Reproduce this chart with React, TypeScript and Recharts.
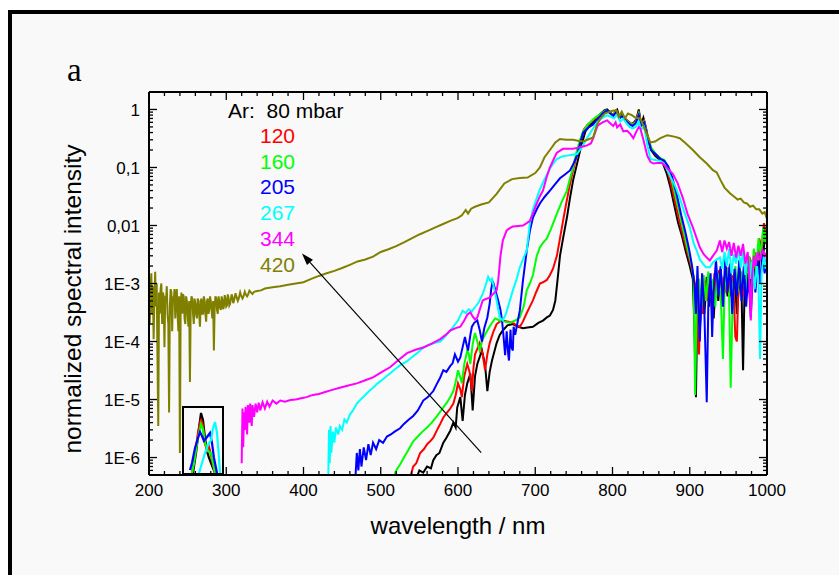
import React from 'react';
import { LineChart, Line, XAxis, YAxis, ReferenceLine } from 'recharts';

type Pt = [number, number];

// spectra: [wavelength nm, normalized intensity]
const ar80: Pt[] = [
  [545, 4e-7], [550, 6e-7], [555, 5.5e-7], [560, 7e-7], [565, 6.5e-7], [568, 9e-7], [572, 1.1e-6], [576, 1.2e-6],
  [581, 1.8e-6], [585, 2.2e-6], [590, 2.9e-6], [594, 4e-6], [597, 3.3e-6], [599, 7.3e-6], [603, 1.1e-5], [606, 4.3e-6],
  [609, 1.2e-5], [612, 1.9e-5], [616, 2.8e-5], [619, 6.5e-6], [622, 2.5e-5], [625, 4.1e-5], [631, 7e-5], [635, 4e-5],
  [638, 1.4e-5], [641, 3e-5], [644, 4.7e-5], [650, 9.4e-5], [654, 1.3e-4], [658, 1.55e-4], [664, 1.9e-4], [671, 2e-4],
  [678, 1.8e-4], [684, 1.7e-4], [690, 1.75e-4], [697, 1.8e-4], [704, 2.1e-4], [710, 2.3e-4], [715, 2.6e-4], [719, 2.8e-4],
  [723, 3.5e-4], [726, 5.1e-4], [729, 1.2e-3], [732, 3e-3], [736, 6e-3], [741, 0.0137], [745, 0.03], [749, 0.06],
  [755, 0.13], [760, 0.25], [765, 0.42], [770, 0.52], [775, 0.6], [780, 0.72], [785, 0.85], [790, 0.97], [793, 1.0],
  [797, 0.9], [801, 0.78], [804, 0.95], [806, 1.0], [809, 0.72], [812, 0.82], [816, 0.7], [820, 0.62], [824, 0.55],
  [828, 0.6], [831, 0.68], [834, 1.0], [837, 0.55], [840, 0.72], [843, 0.5], [846, 0.3], [850, 0.2], [855, 0.16],
  [860, 0.14], [865, 0.12], [870, 0.08], [875, 0.045], [880, 0.022], [885, 0.011], [890, 0.0065], [895, 0.0035],
  [900, 0.002], [904, 0.0012], [906, 1.8e-4], [908, 1.1e-5], [910, 6e-4], [913, 1.5e-4], [916, 9e-4], [919, 3e-4],
  [922, 1.3e-3], [925, 4e-4], [928, 1.1e-3], [931, 2.5e-4], [934, 1.4e-3], [937, 5e-4], [940, 1.8e-3], [943, 4.5e-4],
  [946, 1.2e-3], [949, 6e-4], [952, 2e-3], [955, 5e-4], [958, 1.5e-3], [961, 3e-4], [964, 1e-3], [967, 8e-4],
  [969, 3.2e-5], [971, 9e-4], [974, 2e-3], [977, 7e-4], [980, 2.5e-3], [983, 1e-3], [986, 3e-3], [989, 1.5e-3],
  [992, 5e-3], [995, 3e-3], [998, 8e-3], [1000, 6e-3],
];

const ar120: Pt[] = [
  [537, 4e-7], [542, 7e-7], [546, 8e-7], [551, 1.2e-6], [556, 1.4e-6], [560, 1.7e-6], [564, 1.9e-6], [568, 2.2e-6],
  [573, 3e-6], [577, 3.8e-6], [581, 4.9e-6], [586, 6e-6], [590, 7e-6], [594, 8.5e-6], [597, 1.2e-5], [600, 1.9e-5],
  [603, 1.5e-5], [605, 1.1e-5], [608, 2.5e-5], [612, 4.1e-5], [615, 3e-5], [618, 1.4e-5], [620, 3.5e-5], [622, 6e-5],
  [628, 9.4e-5], [632, 6e-5], [635, 3.2e-5], [638, 6e-5], [641, 9.4e-5], [646, 1.5e-4], [650, 2e-4], [654, 2.2e-4],
  [658, 2.3e-4], [665, 2.2e-4], [671, 2.1e-4], [676, 1.9e-4], [680, 1.8e-4], [684, 2.2e-4], [689, 3.1e-4], [693, 4e-4],
  [697, 5.1e-4], [701, 7e-4], [706, 1e-3], [710, 1.05e-3], [715, 1.15e-3], [719, 1.4e-3], [723, 1.8e-3], [728, 3e-3],
  [732, 6e-3], [736, 0.012], [739, 0.02], [744, 0.045], [748, 0.079], [752, 0.13], [755, 0.2], [759, 0.3], [763, 0.45],
  [768, 0.55], [775, 0.65], [780, 0.75], [786, 0.85], [792, 0.95], [797, 0.88], [801, 0.8], [805, 0.95], [809, 0.75],
  [813, 0.8], [817, 0.68], [822, 0.6], [826, 0.56], [830, 0.62], [834, 0.92], [837, 0.55], [841, 0.65], [845, 0.38],
  [850, 0.21], [856, 0.17], [862, 0.14], [866, 0.13], [871, 0.09], [876, 0.05], [881, 0.026], [886, 0.013],
  [891, 0.007], [896, 0.0038], [901, 0.0022], [905, 0.0013], [908, 8e-4], [910, 1.5e-4], [912, 6e-5], [914, 7e-4],
  [917, 3e-4], [920, 1.1e-3], [923, 5e-4], [926, 1.3e-3], [929, 3e-4], [932, 1.5e-3], [935, 6e-4], [938, 1.7e-3],
  [941, 5e-4], [944, 1.3e-3], [947, 7e-4], [950, 1.9e-3], [953, 6e-4], [956, 1.4e-3], [959, 1.2e-4], [961, 1e-4],
  [963, 9e-4], [966, 1.6e-3], [969, 6e-4], [972, 2.2e-3], [975, 9e-4], [978, 2.8e-3], [981, 1.2e-3], [984, 3.5e-3],
  [987, 2e-3], [990, 6e-3], [993, 4e-3], [996, 0.011], [998, 7e-3], [1000, 0.009],
];

const ar160: Pt[] = [
  [515, 4e-7], [520, 6e-7], [525, 7.6e-7], [530, 1e-6], [535, 1.3e-6], [542, 1.9e-6], [548, 2.3e-6], [554, 2.8e-6],
  [560, 3.3e-6], [566, 4e-6], [572, 5e-6], [577, 6.2e-6], [581, 7.3e-6], [586, 9e-6], [590, 1.1e-5], [594, 1.4e-5],
  [597, 2e-5], [600, 3.2e-5], [603, 2.4e-5], [605, 1.9e-5], [608, 4e-5], [612, 7e-5], [614, 6e-5], [616, 4.1e-5],
  [619, 9e-5], [622, 1.4e-4], [625, 1e-4], [628, 7e-5], [632, 1.1e-4], [638, 1.55e-4], [643, 2e-4], [648, 2.5e-4],
  [654, 2.3e-4], [660, 2.2e-4], [667, 2.1e-4], [674, 2.3e-4], [680, 2.6e-4], [685, 4e-4], [689, 7.6e-4], [693, 1e-3],
  [697, 1.4e-3], [702, 3e-3], [706, 4.2e-3], [710, 5e-3], [715, 6e-3], [720, 8.5e-3], [728, 0.016], [734, 0.025],
  [741, 0.04], [745, 0.065], [749, 0.1], [754, 0.2], [758, 0.3], [762, 0.42], [768, 0.55], [775, 0.68], [781, 0.78],
  [787, 0.88], [792, 0.96], [797, 0.86], [801, 0.8], [805, 0.92], [809, 0.72], [813, 0.8], [817, 0.66], [822, 0.58],
  [826, 0.55], [830, 0.6], [834, 0.85], [837, 0.55], [841, 0.62], [845, 0.36], [850, 0.22], [856, 0.17], [862, 0.145],
  [867, 0.135], [872, 0.1], [877, 0.06], [882, 0.03], [887, 0.016], [892, 0.008], [897, 0.004], [902, 0.0022],
  [905, 0.0013], [907, 1.2e-5], [909, 5e-4], [912, 1.2e-3], [915, 4e-4], [918, 1.4e-3], [921, 5e-4], [924, 1.6e-3],
  [927, 6e-4], [930, 1.2e-3], [933, 4e-4], [936, 1.5e-3], [940, 7e-4], [943, 5e-5], [945, 8e-4], [948, 1.8e-3],
  [951, 6e-4], [953, 1.6e-5], [956, 9e-4], [959, 2e-3], [962, 7e-4], [965, 1.8e-3], [968, 9e-4], [971, 2.5e-3],
  [974, 8e-4], [977, 3e-3], [980, 1.2e-3], [983, 4e-3], [986, 1.5e-3], [989, 6e-3], [992, 3e-3], [995, 9e-3],
  [998, 5e-3], [1000, 0.012],
];

const ar205: Pt[] = [
  [467, 4e-7], [469, 1.2e-6], [471, 6e-7], [473, 1.4e-6], [475, 7e-7], [478, 1.5e-6], [481, 9e-7], [484, 1.7e-6],
  [487, 1.1e-6], [490, 1.8e-6], [494, 1.4e-6], [498, 2e-6], [503, 1.8e-6], [508, 2.3e-6], [513, 2.5e-6], [518, 2.8e-6],
  [525, 3.2e-6], [530, 3.8e-6], [536, 4.5e-6], [542, 5.2e-6], [548, 6.5e-6], [555, 9.6e-6], [561, 1.1e-5], [568, 1.4e-5],
  [573, 1.9e-5], [577, 2.4e-5], [581, 3.2e-5], [585, 3e-5], [590, 3.8e-5], [593, 4.2e-5], [596, 6e-5], [600, 4.5e-5],
  [603, 5.3e-5], [606, 8e-5], [609, 1.2e-4], [611, 9e-5], [613, 7e-5], [616, 1.3e-4], [618, 1.8e-4], [621, 2.1e-4],
  [625, 2.3e-4], [628, 1.6e-4], [631, 1e-4], [634, 1.7e-4], [638, 2.6e-4], [641, 4.5e-4], [643, 8e-4], [645, 1.1e-3],
  [648, 8e-4], [652, 5.1e-4], [655, 3.5e-4], [657, 2.3e-4], [659, 1.2e-4], [661, 5.8e-5], [663, 1.5e-4], [665, 6e-5],
  [666, 4.7e-5], [668, 1.6e-4], [669, 8e-5], [671, 7e-5], [672, 1.8e-4], [674, 1.3e-4], [676, 1.8e-4], [680, 3.4e-4],
  [684, 1.1e-3], [689, 3.7e-3], [693, 8e-3], [697, 0.0137], [702, 0.019], [706, 0.024], [712, 0.031], [719, 0.04],
  [725, 0.05], [732, 0.065], [738, 0.075], [745, 0.089], [750, 0.12], [754, 0.16], [758, 0.26], [762, 0.4], [768, 0.48],
  [775, 0.55], [781, 0.68], [787, 0.85], [793, 0.96], [797, 0.85], [801, 0.78], [805, 0.9], [809, 0.7], [813, 0.78],
  [817, 0.64], [822, 0.56], [826, 0.52], [830, 0.58], [834, 0.8], [837, 0.52], [841, 0.6], [845, 0.35], [850, 0.2],
  [856, 0.17], [862, 0.14], [867, 0.13], [872, 0.105], [877, 0.07], [883, 0.035], [889, 0.015], [894, 0.008],
  [899, 0.004], [903, 0.002], [906, 1e-3], [908, 3e-4], [910, 2e-3], [913, 1e-4], [916, 1.5e-3], [919, 3e-4],
  [922, 9e-6], [924, 4e-4], [927, 1.5e-3], [929, 1.2e-4], [931, 8e-4], [934, 2.5e-3], [937, 6e-4], [940, 2e-3],
  [943, 4e-4], [946, 2.8e-3], [949, 7e-4], [952, 2.2e-3], [955, 3e-4], [958, 1.8e-3], [961, 6e-4], [964, 2.5e-3],
  [967, 5e-4], [970, 2e-3], [973, 4e-4], [976, 1.5e-3], [979, 2.6e-4], [982, 1.8e-3], [985, 7e-4], [988, 2.5e-3],
  [991, 1e-3], [994, 3e-3], [997, 1.5e-3], [1000, 3e-3],
];

const ar267: Pt[] = [
  [432, 4e-7], [433, 3e-6], [434, 8e-7], [435, 3.5e-6], [436, 1.2e-6], [438, 2.8e-6], [440, 1.8e-6], [442, 3.3e-6],
  [445, 2.5e-6], [447, 3.5e-6], [450, 3e-6], [453, 4.5e-6], [456, 4e-6], [460, 5.5e-6], [464, 6.5e-6], [469, 8.5e-6],
  [474, 1e-5], [480, 1.2e-5], [485, 1.4e-5], [490, 1.6e-5], [496, 1.9e-5], [502, 2.2e-5], [507, 2.5e-5], [512, 2.8e-5],
  [518, 3.3e-5], [524, 3.8e-5], [529, 4.2e-5], [534, 4.6e-5], [540, 5.3e-5], [547, 6.3e-5], [555, 7.8e-5], [562, 8.7e-5],
  [570, 9.5e-5], [577, 1e-4], [583, 1.2e-4], [589, 1.5e-4], [594, 1.8e-4], [600, 2.3e-4], [606, 3.4e-4], [610, 3.1e-4],
  [614, 3.6e-4], [618, 3.3e-4], [622, 3.9e-4], [627, 4.8e-4], [632, 6.6e-4], [636, 9.5e-4], [639, 1.3e-3], [642, 1.1e-3],
  [644, 1.2e-3], [647, 8e-4], [650, 5.1e-4], [654, 2.6e-4], [658, 2.3e-4], [662, 3e-4], [667, 5e-4], [671, 7.6e-4],
  [676, 1.2e-3], [680, 1.9e-3], [685, 2.8e-3], [689, 3.7e-3], [693, 0.011], [697, 0.019], [702, 0.03], [706, 0.042],
  [710, 0.055], [715, 0.075], [719, 0.096], [724, 0.12], [728, 0.14], [735, 0.155], [741, 0.16], [748, 0.165],
  [754, 0.17], [760, 0.22], [767, 0.32], [774, 0.45], [780, 0.6], [787, 0.72], [793, 0.79], [798, 0.75], [802, 0.7],
  [806, 0.82], [810, 0.62], [814, 0.7], [818, 0.58], [822, 0.5], [826, 0.47], [830, 0.5], [834, 0.62], [837, 0.45],
  [841, 0.5], [845, 0.25], [849, 0.14], [855, 0.135], [862, 0.13], [866, 0.12], [871, 0.089], [876, 0.065],
  [882, 0.045], [887, 0.03], [893, 0.017], [900, 0.0093], [905, 5e-3], [909, 3.7e-3], [913, 2.6e-3], [917, 2.2e-3],
  [921, 1.9e-3], [926, 1.9e-3], [930, 2.3e-3], [935, 2.6e-3], [939, 2.8e-3], [942, 1.8e-3], [945, 3.5e-3], [948, 2e-3],
  [951, 4e-3], [954, 1.5e-3], [957, 3.2e-3], [960, 2.2e-3], [963, 4.2e-3], [966, 1.9e-3], [969, 3.5e-3], [972, 1.4e-3],
  [975, 3e-3], [978, 1.2e-3], [981, 2.5e-3], [984, 8e-4], [987, 2e-3], [989, 1e-3], [991, 5e-5], [993, 1.5e-3],
  [996, 3e-3], [998, 1.8e-3], [1000, 2.5e-3],
];

const ar344: Pt[] = [
  [320, 8e-7], [321, 7e-6], [322, 1.5e-6], [323, 6e-6], [324, 3e-6], [325, 7.5e-6], [327, 2.5e-6], [328, 8e-6],
  [330, 4e-6], [331, 8.5e-6], [333, 3.5e-6], [334, 8e-6], [336, 5e-6], [338, 8.5e-6], [340, 6e-6], [342, 8.8e-6],
  [344, 6.5e-6], [347, 9e-6], [350, 7e-6], [353, 9.2e-6], [356, 7.5e-6], [360, 9.6e-6], [365, 8.5e-6], [370, 9.6e-6],
  [376, 9.2e-6], [383, 9.8e-6], [390, 1e-5], [397, 1.05e-5], [404, 1.1e-5], [412, 1.2e-5], [420, 1.25e-5],
  [428, 1.35e-5], [436, 1.45e-5], [447, 1.6e-5], [458, 1.75e-5], [469, 1.9e-5], [480, 2.15e-5], [490, 2.4e-5],
  [500, 2.9e-5], [512, 3.6e-5], [523, 4.8e-5], [534, 6.3e-5], [545, 7.2e-5], [555, 7.9e-5], [566, 9.2e-5], [577, 1.1e-4],
  [584, 1.3e-4], [590, 1.55e-4], [597, 1.7e-4], [603, 1.8e-4], [608, 2.3e-4], [612, 2.9e-4], [616, 3.2e-4], [619, 2.7e-4],
  [622, 2.4e-4], [625, 2.6e-4], [628, 3.5e-4], [632, 5.1e-4], [636, 5.4e-4], [641, 5.7e-4], [645, 6.5e-4], [650, 7.6e-4],
  [652, 1.1e-3], [655, 3e-3], [658, 5.5e-3], [663, 8.2e-3], [667, 9e-3], [671, 9.6e-3], [678, 9.8e-3], [684, 0.01],
  [689, 0.011], [693, 0.012], [697, 0.016], [702, 0.024], [706, 0.032], [710, 0.04], [715, 0.07], [719, 0.1],
  [724, 0.14], [728, 0.18], [736, 0.21], [742, 0.21], [749, 0.21], [756, 0.22], [762, 0.23], [767, 0.24], [772, 0.26],
  [775, 0.32], [778, 0.42], [781, 0.53], [787, 0.6], [793, 0.65], [797, 0.58], [801, 0.52], [804, 0.6], [806, 0.49],
  [810, 0.55], [814, 0.42], [819, 0.43], [823, 0.38], [827, 0.32], [831, 0.42], [834, 0.5], [836, 0.47], [840, 0.3],
  [845, 0.16], [849, 0.125], [853, 0.117], [858, 0.12], [864, 0.12], [870, 0.1], [878, 0.078], [884, 0.055], [891, 0.03],
  [897, 0.016], [904, 0.0093], [909, 0.006], [913, 4.2e-3], [918, 3.2e-3], [922, 2.8e-3], [926, 2.5e-3], [930, 3e-3],
  [935, 3.7e-3], [939, 5.5e-3], [942, 3.5e-3], [945, 5.5e-3], [948, 4e-3], [951, 5.2e-3], [954, 3e-3], [957, 5e-3],
  [960, 2.8e-3], [963, 4.5e-3], [966, 3e-3], [969, 4.8e-3], [972, 2.2e-3], [975, 3.5e-3], [977, 1.3e-3], [979, 2.3e-4],
  [981, 1.5e-3], [983, 3e-3], [985, 2e-3], [988, 3.5e-3], [991, 2.5e-3], [994, 3.8e-3], [997, 3e-3], [1000, 3.5e-3],
];

const ar420: Pt[] = [
  [200, 1.2e-3], [201, 2e-4], [202, 8e-4], [203, 1.5e-3], [204, 3e-4], [205, 9e-4], [206, 1.1e-4], [207, 6e-4],
  [208, 1.6e-3], [209, 4e-4], [210, 1e-3], [211, 5e-5], [212, 3.5e-6], [213, 7e-4], [214, 3e-4], [215, 8e-4], [216, 1e-3],
  [217, 2e-4], [218, 7e-4], [219, 6e-4], [220, 8e-5], [221, 6e-4], [222, 5e-4], [223, 9e-4], [224, 3e-4], [225, 2e-4],
  [226, 6e-6], [227, 4e-4], [228, 8e-4], [229, 7e-4], [230, 1.5e-4], [231, 6e-4], [232, 5e-4], [233, 8e-4], [234, 2.5e-4],
  [235, 6e-4], [236, 8e-4], [237, 3e-4], [238, 1.5e-4], [239, 6e-4], [240, 1.2e-6], [241, 4e-4], [242, 7e-4], [243, 3e-4],
  [244, 6.5e-4], [245, 6e-4], [246, 2.5e-4], [247, 2e-4], [248, 6e-4], [249, 5e-4], [250, 3e-4], [251, 1.8e-4],
  [252, 5e-4], [253, 2e-5], [254, 4e-4], [255, 6e-4], [256, 5.5e-4], [257, 3e-4], [258, 2e-4], [259, 5.5e-4],
  [260, 4.5e-4], [261, 3e-4], [262, 2.5e-4], [263, 5.5e-4], [264, 5e-4], [265, 2.8e-4], [266, 1.8e-4], [267, 5e-4],
  [268, 5.5e-4], [269, 3e-4], [270, 3e-4], [271, 6e-4], [272, 5e-4], [273, 3e-4], [274, 2.2e-4], [275, 5e-4],
  [276, 5.5e-4], [277, 3e-4], [278, 3.5e-4], [279, 6e-4], [280, 5e-4], [281, 3.5e-4], [282, 2.5e-4], [283, 5e-4],
  [284, 7e-5], [285, 4e-4], [286, 6e-4], [287, 5.5e-4], [288, 3.5e-4], [289, 3e-4], [290, 6e-4], [291, 5e-4],
  [292, 3.8e-4], [293, 3.5e-4], [294, 6e-4], [295, 5.2e-4], [296, 3.6e-4], [297, 4e-4], [298, 6.3e-4], [299, 5.5e-4],
  [300, 4e-4], [301, 4.2e-4], [302, 6.5e-4], [303, 5.6e-4], [304, 4.2e-4], [305, 4.5e-4], [307, 6.5e-4], [308, 5.8e-4],
  [309, 4.6e-4], [310, 5e-4], [312, 6.8e-4], [313, 6e-4], [315, 5e-4], [316, 5.4e-4], [318, 7e-4], [319, 6.3e-4],
  [321, 5.5e-4], [322, 5.8e-4], [324, 7.2e-4], [325, 6.6e-4], [327, 6e-4], [328, 6.3e-4], [330, 7.5e-4], [332, 7e-4],
  [334, 6.6e-4], [336, 7.2e-4], [340, 7.4e-4], [345, 7.6e-4], [350, 8.2e-4], [360, 8.6e-4], [370, 9e-4], [380, 9.5e-4],
  [390, 1e-3], [400, 1.05e-3], [410, 1.2e-3], [420, 1.35e-3], [430, 1.5e-3], [440, 1.65e-3], [450, 1.85e-3],
  [460, 2.1e-3], [470, 2.4e-3], [480, 2.6e-3], [490, 2.9e-3], [500, 3.5e-3], [510, 3.9e-3], [520, 4.4e-3],
  [530, 5.1e-3], [540, 6e-3], [550, 7e-3], [560, 8e-3], [570, 9.2e-3], [580, 0.0105], [590, 0.012], [600, 0.0135],
  [605, 0.015], [610, 0.0185], [613, 0.016], [617, 0.0195], [622, 0.021], [630, 0.023], [640, 0.025], [650, 0.035],
  [660, 0.053], [670, 0.063], [680, 0.066], [690, 0.067], [700, 0.08], [706, 0.1], [712, 0.15], [719, 0.2], [726, 0.27],
  [732, 0.31], [740, 0.3], [749, 0.3], [755, 0.29], [762, 0.28], [770, 0.31], [775, 0.33], [780, 0.55], [785, 0.72],
  [790, 0.85], [795, 0.9], [800, 0.95], [805, 0.97], [808, 0.75], [812, 0.92], [816, 0.7], [820, 0.85], [825, 0.8],
  [830, 0.72], [836, 0.7], [842, 0.45], [849, 0.27], [855, 0.28], [862, 0.32], [871, 0.36], [880, 0.34], [887, 0.32],
  [895, 0.26], [904, 0.2], [913, 0.15], [922, 0.117], [930, 0.09], [935, 0.082], [940, 0.06], [945, 0.045], [952, 0.036],
  [958, 0.031], [962, 0.028], [966, 0.029], [970, 0.025], [974, 0.024], [978, 0.021], [982, 0.022], [986, 0.019],
  [990, 0.019], [994, 0.016], [997, 0.017], [1000, 0.013],
];

// zoomed inset (box near 250-300 nm): [x offset, height] in box units
const in80: Pt[] = [[9, 0], [12, 20], [15, 45], [17, 60], [19, 53], [21, 35], [23, 22], [25, 15], [27, 10], [29, 5], [31, 0]];
const in120: Pt[] = [[8, 0], [11, 18], [14, 40], [17, 54], [19, 47], [21, 30], [23, 22], [25, 26], [27, 18], [29, 8], [31, 0]];
const in160: Pt[] = [[8, 0], [10, 10], [13, 30], [17, 49], [19, 44], [21, 30], [24, 22], [27, 20], [29, 10], [31, 0]];
const in205: Pt[] = [[6, 3], [8, 10], [11, 25], [14, 35], [16, 41], [18, 37], [20, 32], [23, 36], [26, 40], [28, 30], [30, 15], [33, 0]];
const in267: Pt[] = [[15, 0], [18, 10], [21, 20], [24, 28], [27, 33], [29, 45], [31, 51], [33, 40], [35, 15], [36, 0]];

const pressures = ['80', '120', '160', '205', '267', '344', '420'];
const colors = ['#000000', '#ff0000', '#00ff00', '#0000ff', '#00ffff', '#ff00ff', '#808000'];
const mainSeries = [ar80, ar120, ar160, ar205, ar267, ar344, ar420];
const insetSeries = [in80, in120, in160, in205, in267];

const xTicks: number[] = [];
for (let v = 200; v <= 1000; v += 20) xTicks.push(v);
const yTicks: number[] = [];
for (let e = -7; e <= 0; e++) {
  for (let m = 1; m <= 9; m++) {
    const v = Number((m * Math.pow(10, e)).toPrecision(3));
    if (v >= 5e-7 && v <= 2) yTicks.push(v);
  }
}

const rows = (pts: Pt[]) => pts.map(([x, y]) => ({ x, y }));

const SANS = '"Liberation Sans", Arial, Helvetica, sans-serif';
const X_GAP = 9;
const Y_GAP = 9;

const isDecade = (v: number) => Math.abs(Math.log10(v) - Math.round(Math.log10(v))) < 1e-6;
const fmtY = (v: number) => {
  const e = Math.round(Math.log10(v));
  if (e === 0) return '1';
  if (e === -1) return '0,1';
  if (e === -2) return '0,01';
  return `1E${e}`;
};

const BottomTick = (props: any) => {
  const { x, y, payload } = props;
  const major = payload.value % 100 === 0;
  const ay = y - X_GAP;
  return (
    <g>
      <line x1={x} x2={x} y1={ay} y2={ay - (major ? 8 : 4)} stroke="#000" strokeWidth={1.3} />
      {major && (
        <text x={x} y={y} dy="0.71em" textAnchor="middle" fontSize={17} fontFamily={SANS} fill="#000">
          {payload.value}
        </text>
      )}
    </g>
  );
};

const TopTick = (props: any) => {
  const { x, y, payload } = props;
  const major = payload.value % 100 === 0;
  return <line x1={x} x2={x} y1={y} y2={y + (major ? 8 : 4)} stroke="#000" strokeWidth={1.3} />;
};

const LeftTick = (props: any) => {
  const { x, y, payload } = props;
  const major = isDecade(payload.value);
  const ax = x + Y_GAP;
  return (
    <g>
      <line x1={ax} x2={ax + (major ? 8 : 4)} y1={y} y2={y} stroke="#000" strokeWidth={1.3} />
      {major && (
        <text x={x} y={y} dy="0.36em" textAnchor="end" fontSize={17} fontFamily={SANS} fill="#000">
          {fmtY(payload.value)}
        </text>
      )}
    </g>
  );
};

const RightTick = (props: any) => {
  const { x, y, payload } = props;
  const major = isDecade(payload.value);
  return <line x1={x} x2={x - (major ? 8 : 4)} y1={y} y2={y} stroke="#000" strokeWidth={1.3} />;
};

const Arrow = (props: any) => {
  const { x1, y1, x2, y2 } = props;
  const a = Math.atan2(y2 - y1, x2 - x1);
  const bx = x2 - 12 * Math.cos(a);
  const by = y2 - 12 * Math.sin(a);
  const nx = -Math.sin(a) * 4;
  const ny = Math.cos(a) * 4;
  return (
    <g>
      <line x1={x1} y1={y1} x2={bx} y2={by} stroke="#000" strokeWidth={1.2} />
      <polygon points={`${x2},${y2} ${bx + nx},${by + ny} ${bx - nx},${by - ny}`} fill="#000" />
    </g>
  );
};

const axisStyle = { stroke: '#000', strokeWidth: 2 };

export default function App() {
  return (
    <div style={{ position: 'absolute', left: 0, top: 0, width: 839, height: 575, background: '#fff', overflow: 'hidden' }}>
      <div
        style={{
          position: 'absolute', left: 8, top: 10, width: 840, height: 580,
          borderTop: '4px solid #000', borderLeft: '4px solid #000', background: '#f9f9f9',
        }}
      />
      <div style={{ position: 'absolute', left: 0, top: 0 }}>
        <LineChart width={839} height={575} margin={{ top: 82, right: 62, bottom: 70, left: 99 }}>
          <XAxis
            dataKey="x" type="number" domain={[200, 1000]} ticks={xTicks} interval={0} allowDataOverflow
            height={30} tickSize={0} tickMargin={X_GAP} tickLine={false} axisLine={axisStyle} tick={<BottomTick />}
          />
          <XAxis
            xAxisId="top" orientation="top" dataKey="x" type="number" domain={[200, 1000]} ticks={xTicks} interval={0}
            allowDataOverflow height={10} tickSize={0} tickMargin={0} tickLine={false} axisLine={axisStyle} tick={<TopTick />}
          />
          <YAxis
            dataKey="y" type="number" scale="log" domain={[5e-7, 2]} ticks={yTicks} interval={0} allowDataOverflow
            width={50} tickSize={0} tickMargin={Y_GAP} tickLine={false} axisLine={axisStyle} tick={<LeftTick />}
          />
          <YAxis
            yAxisId="right" orientation="right" dataKey="y" type="number" scale="log" domain={[5e-7, 2]} ticks={yTicks}
            interval={0} allowDataOverflow width={10} tickSize={0} tickMargin={0} tickLine={false} axisLine={axisStyle}
            tick={<RightTick />}
          />
          {mainSeries.map((s, i) => (
            <Line
              key={pressures[i]} data={rows(s)} dataKey="y" type="linear" stroke={colors[i]}
              strokeWidth={2} dot={false} activeDot={false} isAnimationActive={false}
            />
          ))}
          <ReferenceLine
            segment={[{ x: 630, y: 1.22e-6 }, { x: 398, y: 3.3e-3 }]}
            shape={<Arrow />}
          />
        </LineChart>
      </div>

      <div
        style={{
          position: 'absolute', left: 182, top: 406, width: 42, height: 69,
          border: '2px solid #000', boxSizing: 'border-box',
        }}
      >
        <LineChart width={38} height={65} margin={{ top: 0, right: 0, bottom: 0, left: 0 }}>
          <XAxis dataKey="x" type="number" domain={[0, 38]} hide />
          <YAxis dataKey="y" type="number" domain={[0, 65]} hide />
          {insetSeries.map((s, i) => (
            <Line
              key={pressures[i]} data={rows(s)} dataKey="y" type="linear" stroke={colors[i]}
              strokeWidth={2.2} dot={false} activeDot={false} isAnimationActive={false}
            />
          ))}
        </LineChart>
      </div>

      <div style={{ position: 'absolute', left: 67, top: 54, fontFamily: '"Liberation Serif", "Times New Roman", serif', fontSize: 33, lineHeight: '33px' }}>
        a
      </div>

      <div style={{ position: 'absolute', left: 228, top: 100, fontFamily: SANS, fontSize: 21, lineHeight: '21px', whiteSpace: 'pre', color: '#000' }}>
        {`Ar:  ${pressures[0]} mbar`}
      </div>
      {pressures.slice(1).map((p, i) => (
        <div
          key={p}
          style={{
            position: 'absolute', left: 260, top: 125 + i * 25.7, fontFamily: SANS, fontSize: 21,
            lineHeight: '21px', color: colors[i + 1],
          }}
        >
          {p}
        </div>
      ))}

      <div
        style={{
          position: 'absolute', left: 73 - 200, top: 299 - 13, width: 400, height: 26, textAlign: 'center',
          fontFamily: SANS, fontSize: 24.5, lineHeight: '26px', transform: 'rotate(-90deg)', color: '#000',
        }}
      >
        normalized spectral intensity
      </div>
      <div
        style={{
          position: 'absolute', left: 458 - 200, top: 513, width: 400, textAlign: 'center',
          fontFamily: SANS, fontSize: 24, lineHeight: '26px', color: '#000',
        }}
      >
        wavelength / nm
      </div>
    </div>
  );
}
